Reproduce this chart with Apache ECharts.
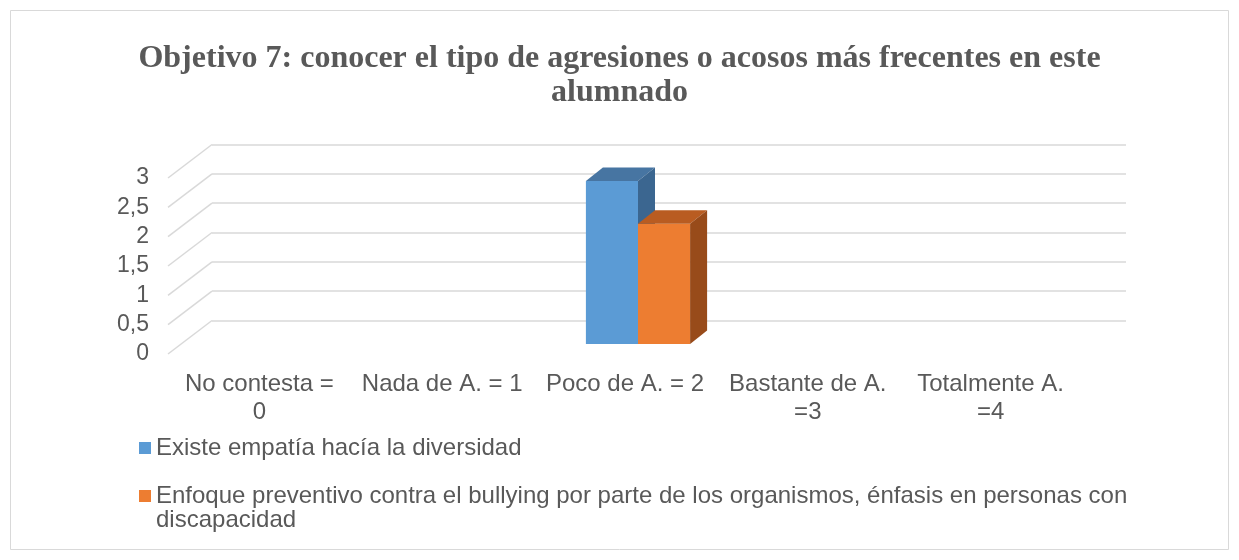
<!DOCTYPE html>
<html>
<head>
<meta charset="utf-8">
<script src="https://cdn.jsdelivr.net/npm/echarts@6/dist/echarts.min.js"></script>
<style>
  html,body{margin:0;padding:0;background:#fff;}
  #chart{width:1239px;height:560px;}
</style>
</head>
<body>
<div id="chart"></div>
<script>
// datos
var categorias = ['No contesta =\n0', 'Nada de A. = 1', 'Poco de A. = 2', 'Bastante de A.\n=3', 'Totalmente A.\n=4'];
var empatia = [0, 0, 2.78, 0, 0];
var enfoque = [0, 0, 2.05, 0, 0];
var yTicks = [0, 0.5, 1, 1.5, 2, 2.5, 3];
var nombreA = 'Existe empatía hacía la diversidad';
var nombreB = 'Enfoque preventivo contra el bullying por parte de los organismos, énfasis en personas con discapacidad';

var gris = '#595959';
var fuente = 'Liberation Sans, Arial, sans-serif';
// profundidad del fondo (px) y de las barras
var fondoDx = 44, fondoDy = -33.5;
var planoDx = 13, planoDy = -10;
var barDx = 17, barDy = -13.5;

function barra3d(colores, lado) {
	return function (params, api) {
		var v = api.value(1);
		if (!v) return null;
		var idx = api.value(0);
		var base = api.coord([idx, 0]);
		var tope = api.coord([idx, v]);
		var w = api.size([1, 0])[0] * 0.285;
		var x0 = base[0] + planoDx + (lado < 0 ? -w : 0);
		var x1 = x0 + w;
		var yb = base[1] + planoDy;
		var yt = tope[1] + planoDy;
		return {
			type: 'group',
			children: [{
				type: 'rect',
				shape: {x: x0, y: yt, width: w, height: yb - yt},
				style: {fill: colores[0]}
			}, {
				type: 'polygon',
				shape: {points: [[x0, yt], [x1, yt], [x1 + barDx, yt + barDy], [x0 + barDx, yt + barDy]]},
				style: {fill: colores[1]}
			}, {
				type: 'polygon',
				shape: {points: [[x1, yt], [x1 + barDx, yt + barDy], [x1 + barDx, yb + barDy], [x1, yb]]},
				style: {fill: colores[2]}
			}]
		};
	};
}

var chart = echarts.init(document.getElementById('chart'));
var option = {
	backgroundColor: '#fff',
	animation: false,
	title: {
		text: 'Objetivo 7: conocer el tipo de agresiones o acosos más frecentes en este\nalumnado',
		left: 'center',
		top: 42,
		padding: [0, 0, 0, 17],
		textStyle: {
			fontFamily: 'Liberation Serif, Times New Roman, serif',
			fontWeight: 'bold',
			fontSize: 32,
			lineHeight: 34,
			color: gris
		}
	},
	graphic: [{
		type: 'rect',
		shape: {x: 10.5, y: 10.5, width: 1218, height: 539},
		style: {fill: null, stroke: '#d9d9d9', lineWidth: 1}
	}],
	legend: [{
		orient: 'vertical',
		left: 139,
		top: 436,
		padding: 0,
		itemWidth: 12,
		itemHeight: 12,
		icon: 'rect',
		data: [nombreA],
		textStyle: {color: gris, fontFamily: fuente, fontSize: 24, lineHeight: 24}
	}, {
		orient: 'vertical',
		left: 139,
		top: 460,
		padding: 0,
		itemWidth: 12,
		itemHeight: 12,
		icon: 'rect',
		data: [nombreB],
		// linea vacia arriba para que el icono quede junto a la primera linea
		formatter: function (n) { return '\n' + n; },
		textStyle: {color: gris, fontFamily: fuente, fontSize: 24, lineHeight: 24, width: 1010, overflow: 'break'}
	}],
	grid: [
		// plano delantero (etiquetas)
		{left: 168, top: 178, width: 914, height: 176},
		// pared del fondo
		{left: 168 + fondoDx, top: 178 + fondoDy, width: 914, height: 176}
	],
	xAxis: [{
		type: 'category',
		gridIndex: 0,
		data: categorias,
		axisLine: {show: false},
		axisTick: {show: false},
		axisLabel: {interval: 0, margin: 16, color: gris, fontFamily: fuente, fontSize: 24, lineHeight: 28}
	}, {
		type: 'category',
		gridIndex: 1,
		data: categorias,
		show: false
	}],
	yAxis: [{
		type: 'value',
		gridIndex: 0,
		min: 0,
		max: 3,
		interval: 0.5,
		axisLine: {show: false},
		axisTick: {show: false},
		splitLine: {show: false},
		axisLabel: {
			margin: 19,
			color: gris,
			fontFamily: fuente,
			fontSize: 23,
			formatter: function (v) { return String(v).replace('.', ','); }
		}
	}, {
		type: 'value',
		gridIndex: 1,
		min: 0,
		max: 3,
		interval: 0.5,
		axisLine: {show: false},
		axisTick: {show: false},
		axisLabel: {show: false},
		splitLine: {lineStyle: {color: '#d9d9d9', width: 1.5}}
	}],
	series: [{
		// lineas oblicuas del lateral
		type: 'custom',
		xAxisIndex: 0,
		yAxisIndex: 0,
		silent: true,
		clip: false,
		data: yTicks.map(function (t) { return [0, t]; }),
		renderItem: function (params, api) {
			var p = api.coord([0, api.value(1)]);
			var x = params.coordSys.x;
			return {
				type: 'line',
				shape: {x1: x, y1: p[1], x2: x + fondoDx, y2: p[1] + fondoDy},
				style: {stroke: '#d9d9d9', lineWidth: 1.5}
			};
		}
	}, {
		name: nombreA,
		type: 'custom',
		xAxisIndex: 0,
		yAxisIndex: 0,
		clip: false,
		itemStyle: {color: '#5B9BD5'},
		data: empatia.map(function (v, i) { return [i, v]; }),
		renderItem: barra3d(['#5B9BD5', '#4775A2', '#3B6690'], -1)
	}, {
		name: nombreB,
		type: 'custom',
		xAxisIndex: 0,
		yAxisIndex: 0,
		clip: false,
		itemStyle: {color: '#ED7D31'},
		data: enfoque.map(function (v, i) { return [i, v]; }),
		renderItem: barra3d(['#ED7D31', '#B95C21', '#984B1A'], 1)
	}]
};
chart.setOption(option);
</script>
</body>
</html>
